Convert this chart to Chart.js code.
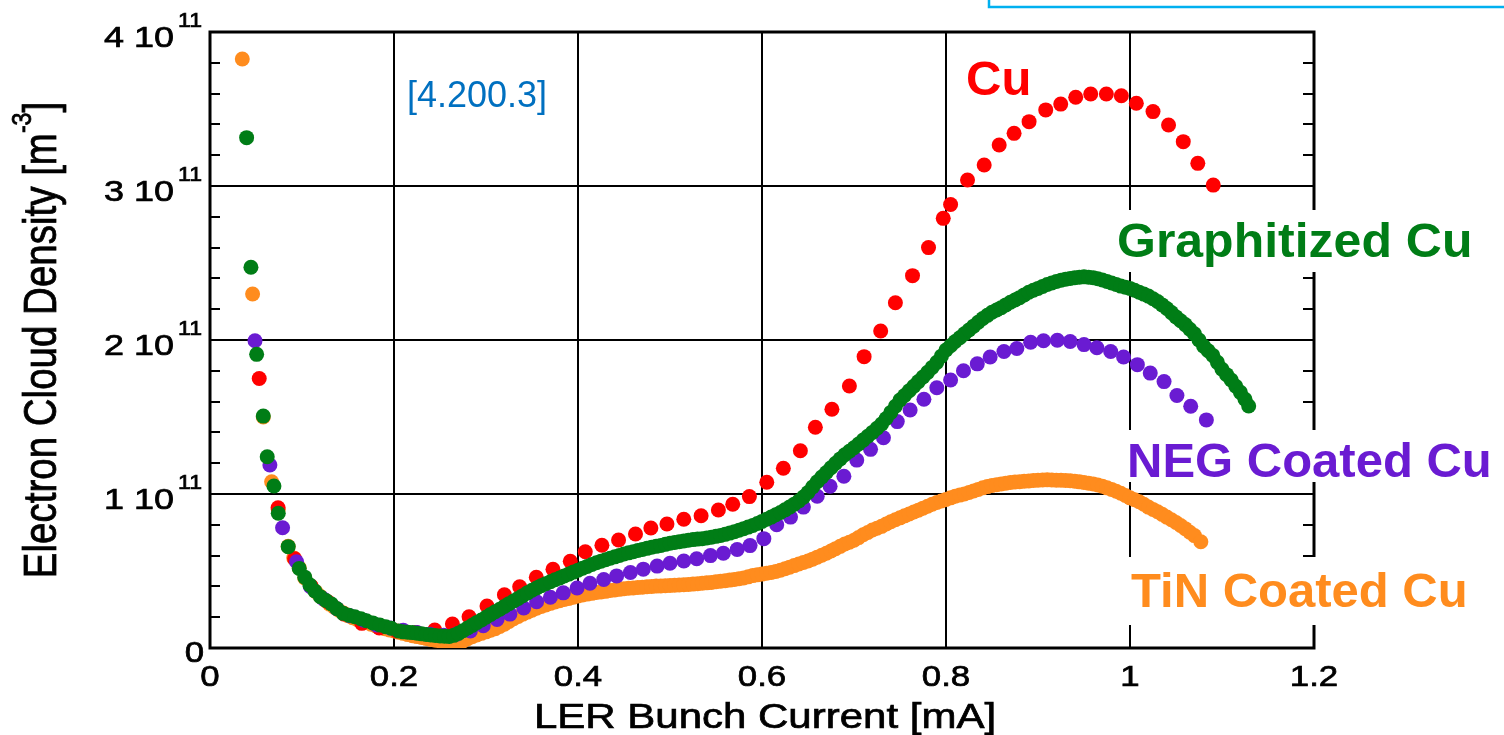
<!DOCTYPE html>
<html>
<head>
<meta charset="utf-8">
<script src="https://cdn.jsdelivr.net/npm/chart.js@4.4.1/dist/chart.umd.min.js"></script>
<style>
  html, body { margin: 0; padding: 0; background: #fff; }
  canvas { display: block; }
</style>
</head>
<body>
<canvas id="chart" width="1504" height="735"></canvas>
<script>
// LER bunch current [mA] vs electron cloud density [10^11 m^-3]
const cu = [
  [0.0535, 1.75], [0.074, 0.91], [0.092, 0.58], [0.110, 0.40], [0.128, 0.30],
  [0.146, 0.22], [0.165, 0.16], [0.184, 0.13], [0.203, 0.11], [0.224, 0.10],
  [0.2443, 0.117], [0.2635, 0.156], [0.2816, 0.203], [0.3011, 0.273], [0.320, 0.346],
  [0.3366, 0.398], [0.3547, 0.459], [0.3728, 0.511], [0.3916, 0.563], [0.4079, 0.625],
  [0.426, 0.667], [0.4441, 0.701], [0.4625, 0.740], [0.4792, 0.779], [0.4967, 0.805],
  [0.515, 0.836], [0.5338, 0.859], [0.5526, 0.896], [0.5682, 0.933], [0.5863, 0.983],
  [0.6052, 1.076], [0.6232, 1.167], [0.6417, 1.281], [0.658, 1.433], [0.676, 1.55],
  [0.695, 1.701], [0.711, 1.892], [0.729, 2.058], [0.745, 2.242], [0.7636, 2.418],
  [0.781, 2.60], [0.797, 2.79], [0.805, 2.88], [0.8234, 3.039], [0.8415, 3.136],
  [0.8578, 3.266], [0.874, 3.342], [0.8903, 3.418], [0.9084, 3.494], [0.9247, 3.532],
  [0.941, 3.576], [0.9573, 3.597], [0.9743, 3.597], [0.9906, 3.586], [1.0069, 3.537],
  [1.025, 3.483], [1.0419, 3.396], [1.0579, 3.288], [1.0737, 3.147], [1.0905, 3.006]
]

const graphitized = [
  [0.0398, 3.314], [0.0445, 2.472], [0.0507, 1.907], [0.0579, 1.506], [0.0622, 1.242],
  [0.0695, 1.052], [0.0742, 0.875], [0.085, 0.658], [0.097, 0.517], [0.103, 0.46],
  [0.1086, 0.409], [0.114, 0.37], [0.120, 0.333], [0.126, 0.308], [0.132, 0.286],
  [0.138, 0.255], [0.1447, 0.225], [0.151, 0.213], [0.1574, 0.203], [0.164, 0.19],
  [0.170, 0.177], [0.177, 0.163], [0.1846, 0.149], [0.191, 0.138], [0.197, 0.128],
  [0.205, 0.11], [0.21, 0.105], [0.215, 0.102], [0.22, 0.10], [0.225, 0.096],
  [0.23, 0.092], [0.235, 0.088], [0.24, 0.085], [0.245, 0.081], [0.25, 0.078],
  [0.255, 0.076], [0.26, 0.075], [0.265, 0.082], [0.27, 0.095], [0.275, 0.112],
  [0.28, 0.13], [0.285, 0.147], [0.29, 0.165], [0.295, 0.182], [0.30, 0.20],
  [0.305, 0.218], [0.31, 0.235], [0.315, 0.252], [0.32, 0.27], [0.325, 0.288],
  [0.33, 0.305], [0.335, 0.322], [0.34, 0.34], [0.345, 0.358], [0.35, 0.375],
  [0.355, 0.39], [0.36, 0.405], [0.365, 0.418], [0.37, 0.43], [0.375, 0.443],
  [0.38, 0.455], [0.385, 0.468], [0.39, 0.48], [0.395, 0.493], [0.40, 0.505],
  [0.405, 0.518], [0.41, 0.53], [0.415, 0.542], [0.42, 0.554], [0.425, 0.564],
  [0.43, 0.573], [0.435, 0.583], [0.44, 0.592], [0.445, 0.601], [0.45, 0.61],
  [0.455, 0.618], [0.46, 0.625], [0.465, 0.633], [0.47, 0.64], [0.475, 0.647],
  [0.48, 0.654], [0.485, 0.66], [0.49, 0.666], [0.495, 0.673], [0.50, 0.68],
  [0.505, 0.685], [0.51, 0.69], [0.515, 0.695], [0.52, 0.70], [0.525, 0.704],
  [0.53, 0.707], [0.535, 0.71], [0.54, 0.714], [0.545, 0.719], [0.55, 0.725],
  [0.555, 0.731], [0.56, 0.738], [0.565, 0.746], [0.57, 0.755], [0.575, 0.765],
  [0.58, 0.775], [0.585, 0.785], [0.59, 0.795], [0.595, 0.808], [0.60, 0.822],
  [0.605, 0.836], [0.61, 0.85], [0.615, 0.865], [0.62, 0.88], [0.625, 0.897],
  [0.63, 0.915], [0.635, 0.934], [0.64, 0.955], [0.645, 0.98], [0.65, 1.01],
  [0.655, 1.045], [0.66, 1.08], [0.665, 1.11], [0.67, 1.14], [0.675, 1.17],
  [0.68, 1.20], [0.685, 1.228], [0.69, 1.255], [0.695, 1.278], [0.70, 1.30],
  [0.705, 1.325], [0.71, 1.35], [0.715, 1.375], [0.72, 1.40], [0.725, 1.427],
  [0.73, 1.455], [0.735, 1.49], [0.74, 1.53], [0.745, 1.57], [0.75, 1.61],
  [0.755, 1.64], [0.76, 1.67], [0.765, 1.70], [0.77, 1.73], [0.775, 1.76],
  [0.78, 1.79], [0.785, 1.822], [0.79, 1.855], [0.795, 1.895], [0.80, 1.935],
  [0.805, 1.963], [0.81, 1.99], [0.815, 2.015], [0.82, 2.04], [0.825, 2.065],
  [0.83, 2.09], [0.835, 2.115], [0.84, 2.14], [0.845, 2.16], [0.85, 2.18],
  [0.855, 2.195], [0.86, 2.21], [0.865, 2.228], [0.87, 2.245], [0.875, 2.26],
  [0.88, 2.275], [0.885, 2.293], [0.89, 2.31], [0.895, 2.323], [0.90, 2.335],
  [0.905, 2.348], [0.91, 2.36], [0.915, 2.37], [0.92, 2.38], [0.925, 2.388],
  [0.93, 2.395], [0.935, 2.40], [0.94, 2.405], [0.945, 2.408], [0.95, 2.41],
  [0.955, 2.408], [0.96, 2.405], [0.965, 2.398], [0.97, 2.39], [0.975, 2.38],
  [0.98, 2.37], [0.985, 2.36], [0.99, 2.35], [0.995, 2.343], [1.00, 2.335],
  [1.005, 2.323], [1.01, 2.31], [1.015, 2.298], [1.02, 2.285], [1.025, 2.268],
  [1.03, 2.25], [1.035, 2.228], [1.04, 2.205], [1.045, 2.178], [1.05, 2.15],
  [1.055, 2.125], [1.06, 2.10], [1.065, 2.07], [1.07, 2.04], [1.075, 2.00],
  [1.08, 1.96], [1.085, 1.93], [1.09, 1.90], [1.095, 1.855], [1.10, 1.81],
  [1.105, 1.775], [1.11, 1.74], [1.115, 1.70], [1.12, 1.66], [1.125, 1.615],
  [1.129, 1.571]
]

const neg = [
  [0.0489, 1.995], [0.0651, 1.188], [0.0789, 0.781], [0.0941, 0.56], [0.109, 0.40],
  [0.123, 0.32], [0.138, 0.255], [0.152, 0.21], [0.167, 0.18], [0.181, 0.15],
  [0.196, 0.13], [0.210, 0.115], [0.225, 0.10], [0.239, 0.09], [0.254, 0.082],
  [0.268, 0.09], [0.283, 0.11], [0.297, 0.145], [0.312, 0.185], [0.326, 0.22],
  [0.341, 0.26], [0.355, 0.30], [0.370, 0.33], [0.384, 0.358], [0.399, 0.39],
  [0.413, 0.42], [0.428, 0.445], [0.442, 0.468], [0.457, 0.49], [0.471, 0.512],
  [0.486, 0.532], [0.500, 0.55], [0.515, 0.565], [0.529, 0.58], [0.544, 0.60],
  [0.558, 0.615], [0.573, 0.64], [0.587, 0.665], [0.602, 0.71], [0.616, 0.80],
  [0.631, 0.85], [0.645, 0.915], [0.660, 0.985], [0.674, 1.05], [0.689, 1.115],
  [0.703, 1.22], [0.718, 1.29], [0.732, 1.365], [0.747, 1.47], [0.761, 1.545],
  [0.776, 1.615], [0.790, 1.69], [0.805, 1.74], [0.819, 1.80], [0.834, 1.845],
  [0.848, 1.89], [0.863, 1.925], [0.877, 1.945], [0.892, 1.985], [0.906, 1.995],
  [0.921, 1.998], [0.935, 1.99], [0.950, 1.97], [0.964, 1.95], [0.979, 1.925],
  [0.993, 1.89], [1.008, 1.84], [1.022, 1.785], [1.037, 1.73], [1.051, 1.64],
  [1.066, 1.57], [1.083, 1.481]
]

const tin = [
  [0.0351, 3.825], [0.0463, 2.299], [0.0579, 1.50], [0.067, 1.08], [0.0742, 0.90],
  [0.085, 0.66], [0.091, 0.585], [0.097, 0.52], [0.103, 0.455], [0.11, 0.40],
  [0.115, 0.365], [0.12, 0.335], [0.125, 0.31], [0.13, 0.285], [0.135, 0.265],
  [0.14, 0.245], [0.145, 0.227], [0.15, 0.21], [0.155, 0.197], [0.16, 0.185],
  [0.165, 0.175], [0.17, 0.165], [0.175, 0.155], [0.18, 0.145], [0.185, 0.135],
  [0.19, 0.125], [0.195, 0.117], [0.20, 0.11], [0.205, 0.102], [0.21, 0.095],
  [0.215, 0.087], [0.22, 0.08], [0.225, 0.074], [0.23, 0.068], [0.235, 0.062],
  [0.24, 0.056], [0.245, 0.05], [0.25, 0.045], [0.255, 0.041], [0.26, 0.038],
  [0.265, 0.036], [0.27, 0.035], [0.275, 0.045], [0.28, 0.06], [0.285, 0.073],
  [0.29, 0.085], [0.295, 0.095], [0.30, 0.105], [0.305, 0.115], [0.31, 0.125],
  [0.315, 0.14], [0.32, 0.155], [0.325, 0.172], [0.33, 0.19], [0.335, 0.205],
  [0.34, 0.22], [0.345, 0.233], [0.35, 0.245], [0.355, 0.258], [0.36, 0.27],
  [0.365, 0.28], [0.37, 0.29], [0.375, 0.299], [0.38, 0.307], [0.385, 0.315],
  [0.39, 0.322], [0.395, 0.33], [0.40, 0.338], [0.405, 0.344], [0.41, 0.35],
  [0.415, 0.355], [0.42, 0.36], [0.425, 0.364], [0.43, 0.368], [0.435, 0.373],
  [0.44, 0.377], [0.445, 0.381], [0.45, 0.385], [0.455, 0.388], [0.46, 0.39],
  [0.465, 0.393], [0.47, 0.395], [0.475, 0.398], [0.48, 0.40], [0.485, 0.402],
  [0.49, 0.403], [0.495, 0.405], [0.50, 0.406], [0.505, 0.408], [0.51, 0.409],
  [0.515, 0.411], [0.52, 0.413], [0.525, 0.415], [0.53, 0.418], [0.535, 0.42],
  [0.54, 0.423], [0.545, 0.426], [0.55, 0.43], [0.555, 0.433], [0.56, 0.437],
  [0.565, 0.441], [0.57, 0.445], [0.575, 0.45], [0.58, 0.455], [0.585, 0.462],
  [0.59, 0.47], [0.595, 0.475], [0.60, 0.48], [0.605, 0.485], [0.61, 0.49],
  [0.615, 0.497], [0.62, 0.505], [0.625, 0.515], [0.63, 0.525], [0.635, 0.535],
  [0.64, 0.545], [0.645, 0.555], [0.65, 0.565], [0.655, 0.577], [0.66, 0.59],
  [0.665, 0.602], [0.67, 0.615], [0.675, 0.63], [0.68, 0.645], [0.685, 0.66],
  [0.69, 0.675], [0.695, 0.687], [0.70, 0.70], [0.705, 0.717], [0.71, 0.735],
  [0.715, 0.75], [0.72, 0.766], [0.725, 0.778], [0.73, 0.79], [0.735, 0.805],
  [0.74, 0.82], [0.745, 0.833], [0.75, 0.845], [0.755, 0.858], [0.76, 0.87],
  [0.765, 0.883], [0.77, 0.895], [0.775, 0.908], [0.78, 0.92], [0.785, 0.933],
  [0.79, 0.945], [0.795, 0.955], [0.80, 0.965], [0.805, 0.975], [0.81, 0.985],
  [0.815, 0.993], [0.82, 1.00], [0.825, 1.01], [0.83, 1.02], [0.835, 1.03],
  [0.84, 1.04], [0.845, 1.048], [0.85, 1.055], [0.855, 1.06], [0.86, 1.065],
  [0.865, 1.07], [0.87, 1.075], [0.875, 1.078], [0.88, 1.08], [0.885, 1.083],
  [0.89, 1.085], [0.895, 1.088], [0.90, 1.09], [0.905, 1.091], [0.91, 1.092],
  [0.915, 1.091], [0.92, 1.09], [0.925, 1.089], [0.93, 1.088], [0.935, 1.086],
  [0.94, 1.083], [0.945, 1.079], [0.95, 1.075], [0.955, 1.07], [0.96, 1.065],
  [0.965, 1.058], [0.97, 1.05], [0.975, 1.04], [0.98, 1.03], [0.985, 1.018],
  [0.99, 1.005], [0.995, 0.99], [1.00, 0.975], [1.005, 0.963], [1.01, 0.95],
  [1.015, 0.933], [1.02, 0.915], [1.025, 0.90], [1.03, 0.885], [1.035, 0.868],
  [1.04, 0.85], [1.045, 0.833], [1.05, 0.815], [1.055, 0.795], [1.06, 0.775],
  [1.065, 0.752], [1.07, 0.73], [1.077, 0.69]
]

const xTicks = [0, 0.2, 0.4, 0.6, 0.8, 1.0, 1.2]
const xTickLabels = ['0', '0.2', '0.4', '0.6', '0.8', '1', '1.2']
const yTicks = [0, 1, 2, 3, 4]
const E11 = 1e11

const RED = '#ff0000'
const GREEN = '#007d16'
const PURPLE = '#6a1bd2'
const ORANGE = '#ff8c1e'

const FONT = '"Liberation Sans", Arial, Helvetica, sans-serif'

function toPoints(list) {
  return list.map(p => ({ x: p[0], y: p[1] * E11 }))
}

function dots(label, list, color, order) {
  return {
    label: label,
    data: toPoints(list),
    backgroundColor: color,
    borderColor: color,
    borderWidth: 0,
    pointRadius: 7.5,
    pointHoverRadius: 7.5,
    showLine: false,
    order: order
  }
}

// axis text is drawn wide, with a thin stroke to give it some weight
function wideText(c, str, x, y, size, sx, align, color, weight) {
  c.save()
  c.font = (weight || 'normal') + ' ' + size + 'px ' + FONT
  c.fillStyle = color || '#000'
  c.strokeStyle = color || '#000'
  c.lineWidth = weight ? 0 : 0.7
  c.textAlign = 'left'
  c.textBaseline = 'alphabetic'
  let w = c.measureText(str).width * sx
  let x0 = align === 'center' ? x - w / 2 : align === 'right' ? x - w : x
  c.translate(x0, y)
  c.scale(sx, 1)
  c.fillText(str, 0, 0)
  if (!weight) c.strokeText(str, 0, 0)
  c.restore()
  return w
}

const frame = {
  id: 'frame',
  beforeDatasetsDraw(chart) {
    const c = chart.ctx
    const a = chart.chartArea
    const ys = chart.scales.y
    c.save()
    c.strokeStyle = '#000'
    // minor ticks every 0.2 x 10^11 on both vertical axes
    c.lineWidth = 2
    for (let v = 0; v <= 4.001; v += 0.2) {
      let py = Math.round(ys.getPixelForValue(v * E11))
      c.beginPath()
      c.moveTo(a.left, py); c.lineTo(a.left + 10, py)
      c.moveTo(a.right, py); c.lineTo(a.right - 11, py)
      c.stroke()
    }
    c.lineWidth = 3
    c.strokeRect(a.left, a.top, a.right - a.left, a.bottom - a.top)
    c.restore()
  }
}

const annotations = {
  id: 'annotations',
  afterDraw(chart) {
    const c = chart.ctx
    const xs = chart.scales.x
    const ys = chart.scales.y

    // tick labels
    xTicks.forEach((v, i) => {
      wideText(c, xTickLabels[i], xs.getPixelForValue(v), 686, 29, 1.2, 'center')
    })
    yTicks.forEach(v => {
      let py = ys.getPixelForValue(v * E11)
      if (v === 0) {
        wideText(c, '0', 204, py + 14, 29, 1.2, 'right')
      } else {
        wideText(c, v + ' 10', 174, py + 15, 29, 1.24, 'right')
        wideText(c, '11', 202, py - 5, 20, 1.15, 'right')
      }
    })

    // axis titles
    wideText(c, 'LER Bunch Current [mA]', 765, 728, 35, 1.2, 'center')

    c.save()
    c.translate(56, 340)
    c.rotate(-Math.PI / 2)
    c.scale(1.1, 1.3)
    c.fillStyle = '#000'
    c.strokeStyle = '#000'
    c.lineWidth = 0.6
    c.textBaseline = 'alphabetic'
    c.textAlign = 'left'
    const main = 'Electron Cloud Density [m'
    c.font = '35px ' + FONT
    let w1 = c.measureText(main).width
    let w3 = c.measureText(']').width
    c.font = '21px ' + FONT
    let w2 = c.measureText('-3').width
    let x0 = -(w1 + w2 + w3) / 2
    c.font = '35px ' + FONT
    c.fillText(main, x0, 0)
    c.strokeText(main, x0, 0)
    c.fillText(']', x0 + w1 + w2, 0)
    c.strokeText(']', x0 + w1 + w2, 0)
    c.font = '21px ' + FONT
    c.fillText('-3', x0 + w1, -19)
    c.strokeText('-3', x0 + w1, -19)
    c.restore()

    // series labels on white boxes
    c.save()
    c.fillStyle = '#fff'
    c.fillRect(1112, 210, 392, 62)
    c.fillRect(1120, 430, 384, 52)
    c.fillRect(1122, 557, 382, 68)
    c.restore()
    wideText(c, 'Cu', 966, 95, 49, 1, 'left', RED, 'bold')
    wideText(c, 'Graphitized Cu', 1117, 257, 49, 1.02, 'left', GREEN, 'bold')
    wideText(c, 'NEG Coated Cu', 1127, 477, 49, 1, 'left', PURPLE, 'bold')
    wideText(c, 'TiN Coated Cu', 1131, 607, 49, 1, 'left', ORANGE, 'bold')

    wideText(c, '[4.200.3]', 407, 107, 36, 1, 'left', '#0070c0', 'normal')

    // edge of a text box above the plot
    c.save()
    c.strokeStyle = '#00b0f0'
    c.lineWidth = 2.5
    c.strokeRect(989, -10, 530, 17)
    c.restore()
  }
}

let ctx = document.getElementById('chart').getContext('2d')
let chart = new Chart(ctx, {
  type: 'scatter',
  data: {
    datasets: [
      dots('Graphitized Cu', graphitized, GREEN, 0),
      dots('NEG Coated Cu', neg, PURPLE, 1),
      dots('Cu', cu, RED, 2),
      dots('TiN Coated Cu', tin, ORANGE, 3)
    ]
  },
  options: {
    responsive: false,
    animation: false,
    devicePixelRatio: 1,
    layout: { padding: { left: 0, right: 190, top: 32, bottom: 0 } },
    plugins: {
      legend: { display: false },
      tooltip: { enabled: false }
    },
    scales: {
      x: {
        type: 'linear',
        min: 0,
        max: 1.2,
        ticks: { stepSize: 0.2, display: false },
        grid: { color: '#000', lineWidth: 2, drawTicks: false },
        border: { display: false },
        afterFit(s) { s.height = 87 }
      },
      y: {
        type: 'linear',
        min: 0,
        max: 4 * E11,
        ticks: { stepSize: E11, display: false },
        grid: { color: '#000', lineWidth: 2, drawTicks: false },
        border: { display: false },
        afterFit(s) { s.width = 210 }
      }
    }
  },
  plugins: [frame, annotations]
})
</script>
</body>
</html>
